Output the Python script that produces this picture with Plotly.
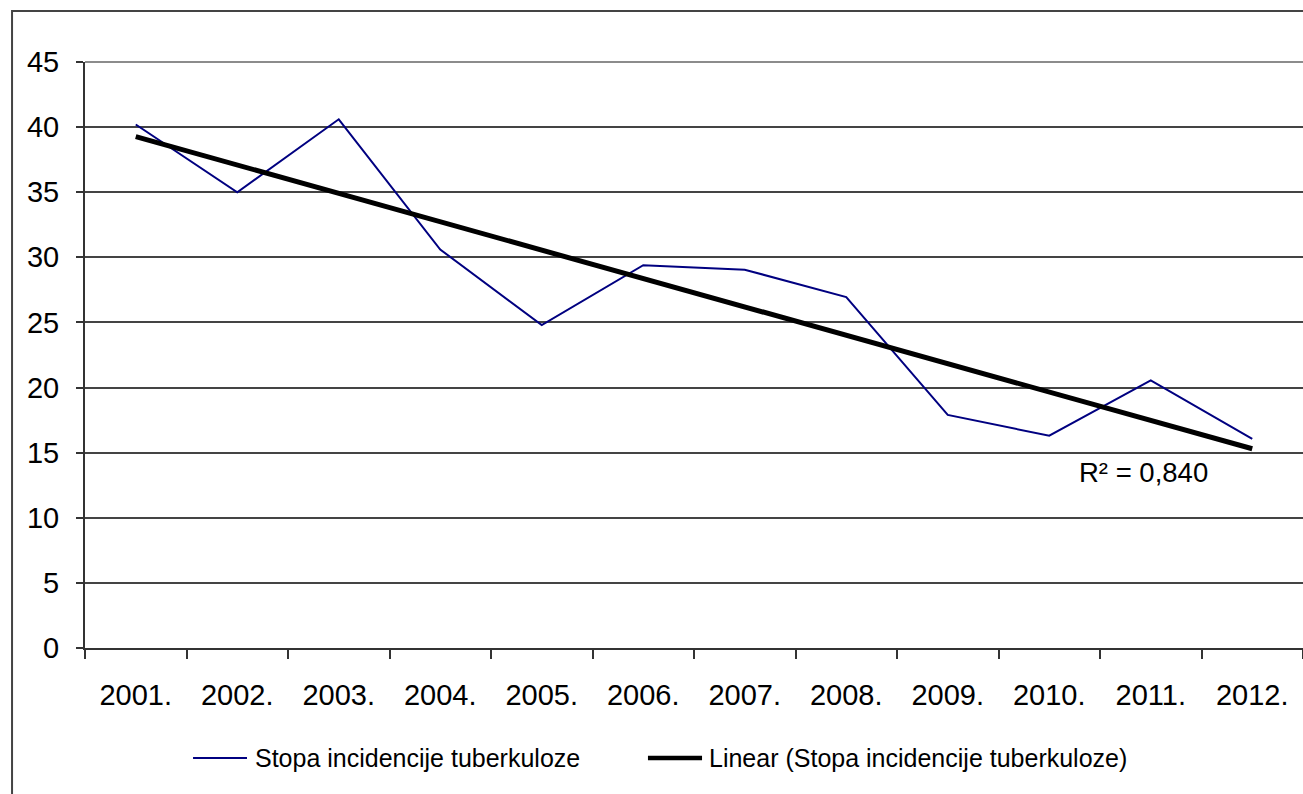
import numpy as np
import plotly.graph_objects as go

years = ["2001.", "2002.", "2003.", "2004.", "2005.", "2006.",
         "2007.", "2008.", "2009.", "2010.", "2011.", "2012."]
incidence = [40.2, 35.0, 40.6, 30.6, 24.8, 29.4, 29.05, 26.95, 17.9, 16.3, 20.55, 16.05]
y_ticks = [0, 5, 10, 15, 20, 25, 30, 35, 40, 45]
series_name = "Stopa incidencije tuberkuloze"
trend_name = "Linear (Stopa incidencije tuberkuloze)"
r2_label = "R² = 0,840"

idx = np.arange(len(incidence))
slope, intercept = np.polyfit(idx, incidence, 1)
trend = slope * idx + intercept

FONT = "Liberation Sans, Arial, sans-serif"
BLUE = "#000080"

fig = go.Figure()
fig.add_trace(go.Scatter(x=years, y=incidence, mode="lines", name=series_name,
                         line=dict(color=BLUE, width=2), showlegend=False))
fig.add_trace(go.Scatter(x=years, y=trend, mode="lines", name=trend_name,
                         line=dict(color="#000000", width=5), showlegend=False))

fig.add_annotation(x=9.93, y=13.44, xref="x", yref="y", text=r2_label, showarrow=False,
                   font=dict(family=FONT, size=27.5, color="#000"))

# legend (drawn as line samples + text)
LEG_Y = -0.1877
fig.add_shape(type="line", xref="paper", yref="paper", x0=0.0887, x1=0.1330, y0=LEG_Y, y1=LEG_Y,
              line=dict(color=BLUE, width=2))
fig.add_annotation(x=0.1379, y=LEG_Y, xref="paper", yref="paper", xanchor="left", yanchor="middle",
                   text=series_name, showarrow=False, font=dict(family=FONT, size=25, color="#000"))
fig.add_shape(type="line", xref="paper", yref="paper", x0=0.4622, x1=0.5066, y0=LEG_Y, y1=LEG_Y,
              line=dict(color="#000", width=4.5))
fig.add_annotation(x=0.5107, y=LEG_Y, xref="paper", yref="paper", xanchor="left", yanchor="middle",
                   text=trend_name, showarrow=False, font=dict(family=FONT, size=25, color="#000"))

# outer chart frame
fig.add_shape(type="rect", xref="paper", yref="paper",
              x0=-0.0599, x1=1.05, y0=-0.4, y1=1.087,
              line=dict(color="#444", width=2), layer="below")
# top plot-area border (gray)
fig.add_shape(type="line", xref="paper", yref="paper", x0=0, x1=1, y0=1, y1=1,
              line=dict(color="#8c8c8c", width=2))

fig.update_layout(
    width=1303, height=794,
    margin=dict(l=85, r=0, t=62, b=146),
    paper_bgcolor="white", plot_bgcolor="white",
    font=dict(family=FONT, size=27, color="#000"),
    showlegend=False,
    xaxis=dict(type="category", range=[-0.5, 11.5], showgrid=False,
               showline=True, linecolor="#333", linewidth=2,
               ticks="outside", ticklen=9, tickcolor="#333", tickwidth=1.5,
               tickson="boundaries", ticklabelstandoff=20,
               tickfont=dict(family=FONT, size=29, color="#000"), fixedrange=True),
    yaxis=dict(range=[0, 45], tickvals=y_ticks, showgrid=True, gridcolor="#444", gridwidth=2,
               showline=True, linecolor="#333", linewidth=2, zeroline=False,
               ticks="outside", ticklen=7, tickcolor="#333", tickwidth=1.5,
               ticklabelstandoff=11,
               tickfont=dict(family=FONT, size=29, color="#000"), fixedrange=True),
)

fig.write_html("out.html", config={"displayModeBar": False},
               post_script="document.body.style.margin='0';document.body.style.overflow='hidden';")
